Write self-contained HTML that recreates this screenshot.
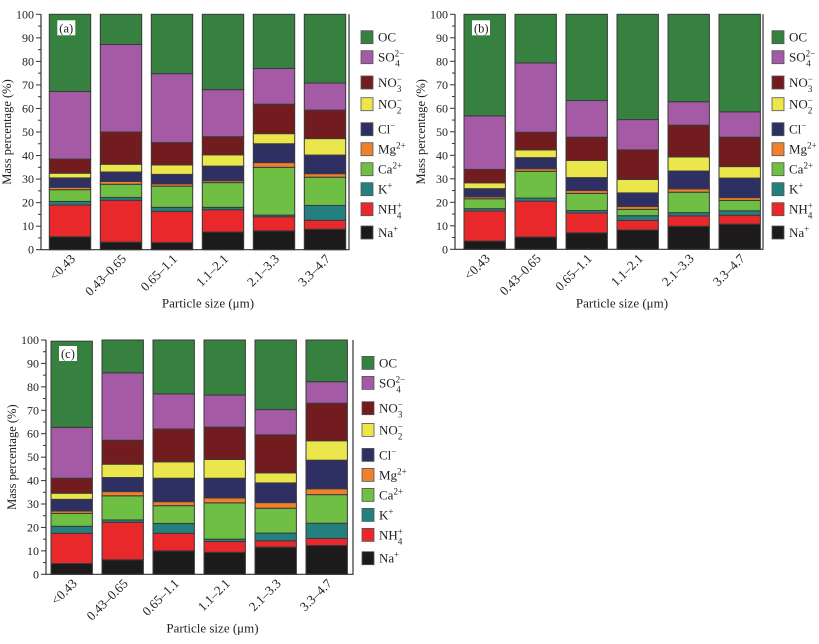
<!DOCTYPE html>
<html><head><meta charset="utf-8"><style>
html,body{margin:0;padding:0;background:#fff;}
svg{display:block;}
svg text{font-family:"Liberation Serif","DejaVu Serif",serif;}
</style></head><body>
<svg id="chart" width="819" height="644" viewBox="0 0 819 644" xmlns="http://www.w3.org/2000/svg" font-family="Liberation Serif, serif"></svg>
<script>
// Categories & species
const categories = ["<0.43","0.43–0.65","0.65–1.1","1.1–2.1","2.1–3.3","3.3–4.7"];
const species = ["Na","NH4","K","Ca","Mg","Cl","NO2","NO3","SO4","OC"];
const yTicks = [0,10,20,30,40,50,60,70,80,90,100];
// Cumulative top (%) of each species per bar, panel (a)
const naA  = [5.5,3.2,3.0,7.5,8.0,8.7];
const nh4A = [19,21,16.3,17,14,12.5];
const kA   = [20.5,22.2,18,18,14.7,18.8];
const caA  = [25.5,27.8,27,28.5,35,30.8];
const mgA  = [26.5,29,28,29.3,37,32.3];
const clA  = [30.5,33,32,35.5,45,40.2];
const no2A = [32.5,36.3,36,40.3,49.3,47.2];
const no3A = [38.5,50,45.5,48,61.8,59.3];
const so4A = [67.2,87.2,74.8,68,77,70.8];
const ocA  = [100,100,100,100,100,100];
// panel (b)
const naB  = [3.5,5.2,7,8.2,9.8,10.7];
const nh4B = [16.3,20.5,15.5,12.3,14.2,14.5];
const kB   = [17.3,21.8,16.5,14.3,15.6,16.4];
const caB  = [21.5,33.2,23.8,17,24.3,20.8];
const mgB  = [22.3,34.3,25,18.2,25.7,22];
const clB  = [25.8,39,30.5,24,33.3,30.3];
const no2B = [28.3,42.3,37.8,29.7,39.3,35.2];
const no3B = [34,49.8,47.7,42.3,52.8,47.7];
const so4B = [56.8,79.3,63.3,55.2,62.8,58.5];
const ocB  = [100,100,100,100,100,100];
// panel (c)
const naC  = [4.6,6.2,10,9.4,11.6,12.3];
const nh4C = [17.5,22.2,17.5,14,14.3,15.3];
const kC   = [20.5,23.2,21.7,15,17.6,21.8];
const caC  = [26,33.5,29.3,30.5,28.2,34];
const mgC  = [27,35.3,31,32.6,30.6,36.5];
const clC  = [32,41.3,41,41,39,48.7];
const no2C = [34.6,47,48,49,43.3,57];
const no3C = [41,57.2,62,62.8,59.5,73];
const so4C = [62.7,86,77,76.5,70.3,82.2];
const ocC  = [99.5,100,100,100,100,100];

const colors = {Na:"#1c1a1b",NH4:"#e8282a",K:"#23807f",Ca:"#6fbf45",Mg:"#f08030",Cl:"#2e3063",NO2:"#ebe64b",NO3:"#721c1f",SO4:"#a45aa5",OC:"#36813f"};
const NS="http://www.w3.org/2000/svg";
const svg=document.getElementById('chart');
const FF='"Liberation Serif", "DejaVu Serif", serif';
function mk(tag,attrs,parent){const e=document.createElementNS(NS,tag);for(const k in attrs)e.setAttribute(k,attrs[k]);if(tag==='text')e.style.fontFamily=FF;(parent||svg).appendChild(e);return e;}

const panels=[
 {id:"a",x0:41,x1:349,yTop:14.3,yBot:249.7,bar1:49.3,legX:361,data:[naA,nh4A,kA,caA,mgA,clA,no2A,no3A,so4A,ocA]},
 {id:"b",x0:455,x1:763,yTop:14.3,yBot:249.3,bar1:464,legX:772,data:[naB,nh4B,kB,caB,mgB,clB,no2B,no3B,so4B,ocB]},
 {id:"c",x0:46,x1:353,yTop:340,yBot:574.3,bar1:51,legX:362,data:[naC,nh4C,kC,caC,mgC,clC,no2C,no3C,so4C,ocC]}
];
const legOff=[16.4,36.4,61.7,83.4,108.4,128.4,148.4,168.4,188.4,211.7];
const legOrder=["OC","SO4","NO3","NO2","Cl","Mg","Ca","K","NH4","Na"];

function legendText(g,sp,x,y){
  const t=mk('text',{x:x,y:y,'font-size':13,fill:'#222'},g);
  const base=(s)=>{const ts=mk('tspan',{},t);ts.textContent=s;};
  const sup=(s)=>{const ts=mk('tspan',{'font-size':9,'baseline-shift':'super'},t);ts.textContent=s;};
  const supsub=(a,b,w)=>{const t1=mk('tspan',{'font-size':9,'baseline-shift':'super'},t);t1.textContent=a;
    const t2=mk('tspan',{'font-size':9,'baseline-shift':'sub',dx:-w},t);t2.textContent=b;};
  if(sp==="OC")base("OC");
  else if(sp==="SO4"){base("SO");supsub("2−","4",9);}
  else if(sp==="NO3"){base("NO");supsub("−","3",5);}
  else if(sp==="NO2"){base("NO");supsub("−","2",5);}
  else if(sp==="Cl"){base("Cl");sup("−");}
  else if(sp==="Mg"){base("Mg");sup("2+");}
  else if(sp==="Ca"){base("Ca");sup("2+");}
  else if(sp==="K"){base("K");sup("+");}
  else if(sp==="NH4"){base("NH");supsub("+","4",5);}
  else if(sp==="Na"){base("Na");sup("+");}
}

panels.forEach(p=>{
  const g=mk('g',{});
  
  
  const ys=v=>p.yBot-(v/100)*(p.yBot-p.yTop);
  const step=51, bw=41.4;
  const xs=i=>p.bar1+i*step;
  categories.forEach((c,i)=>{
    const bg=mk('g',{},g);
    
    
    let prev=0;
    species.forEach((sp,k)=>{
      const top=p.data[k][i];
      const r=mk('rect',{x:xs(i),y:ys(top),width:bw,height:Math.max(0,ys(prev)-ys(top)),fill:colors[sp],stroke:'#3a3a3a','stroke-width':1},bg);
      
      
      prev=top;
    });
    const lx=xs(i)+bw/2+6, ly=p.yBot+10;
    const t=mk('text',{x:lx,y:ly,'font-size':13,fill:'#222','text-anchor':'end',transform:`rotate(-45 ${lx} ${ly})`},g);
    
    
    t.textContent=c;
  });
  const ax=mk('path',{d:`M${p.x0},${p.yTop}V${p.yBot}H${p.x1}V${p.yTop}`,fill:'none',stroke:'#333','stroke-width':1.2},g);
  
  
  yTicks.forEach(v=>{
    mk('line',{x1:p.x0-5,x2:p.x0,y1:ys(v),y2:ys(v),stroke:'#333'},g);
    if(v<100) mk('line',{x1:p.x0-3,x2:p.x0,y1:ys(v+5),y2:ys(v+5),stroke:'#333'},g);
    const t=mk('text',{x:p.x0-7,y:ys(v)+4,'font-size':12,fill:'#222','text-anchor':'end'},g);
    
    
    t.textContent=v;
  });
  const yt=mk('text',{x:0,y:0,'font-size':12.5,fill:'#222','text-anchor':'middle',transform:`translate(${p.x0-30},${(p.yTop+p.yBot)/2}) rotate(-90)`},g);
  
  
  yt.textContent="Mass percentage (%)";
  const xt=mk('text',{x:(p.x0+p.x1)/2+13,y:p.yBot+58,'font-size':13,fill:'#222','text-anchor':'middle'},g);
  
  
  xt.textContent="Particle size (μm)";
  const lb=mk('rect',{x:p.bar1+8,y:p.yTop+6,width:18,height:15,fill:'#fff'},g);
  
  
  const lt=mk('text',{x:p.bar1+10,y:p.yTop+18,'font-size':12.5,fill:'#222'},g);
  
  
  lt.textContent="("+p.id+")";
  legOrder.forEach((sp,k)=>{
    const lg=mk('g',{},g);
    
    
    const y=p.yTop+legOff[k];
    mk('rect',{x:p.legX,y:y,width:12,height:13,fill:colors[sp],stroke:'#555','stroke-width':0.8},lg);
    legendText(lg,sp,p.legX+17,y+11);
  });
});
</script>
</body></html>
